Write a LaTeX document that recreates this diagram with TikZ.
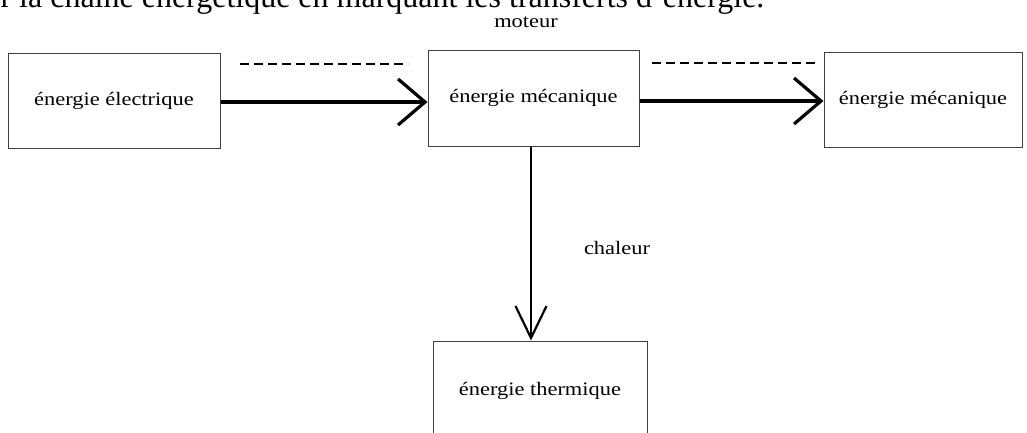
\documentclass[tikz,border=0pt]{standalone}
\usepackage{fontspec}
\setmainfont{Liberation Serif}
\newfontfamily\boxfont[FakeStretch=1.18]{Liberation Serif}
\usetikzlibrary{arrows.meta}

\begin{document}
\begin{tikzpicture}[x=1pt,y=-1pt,
        energie/.style={draw=black!75,line width=1pt,font=\boxfont\fontsize{19}{22}\selectfont,inner sep=0pt},
        transfert/.style={line width=3.2pt,-{Straight Barb[length=27pt,width=46pt]}},
        pertes/.style={line width=2.2pt,-{Straight Barb[length=32pt,width=31pt]}},
        blanc/.style={line width=2.5pt,dash pattern=on 9pt off 5pt},
        legende/.style={font=\boxfont\fontsize{19}{22}\selectfont}]
            \useasboundingbox (0,0) rectangle (1027,432);
            \clip (0,0) rectangle (1027,432);
            \node[anchor=base west,font=\fontsize{32}{36}\selectfont] (consigne) at (-3,7) {r la chaîne énergétique en marquant les transferts d'énergie.};
            \node[energie,minimum width=212pt,minimum height=95pt] (elec) at (114,100.5) {énergie électrique};
            \node[energie,minimum width=211pt,minimum height=96pt] (meca) at (533.5,98) {énergie mécanique};
            \node[energie,minimum width=198pt,minimum height=95pt] (meca2) at (923,99.5) {énergie mécanique};
            \node[energie,minimum width=214pt,minimum height=100pt] (therm) at (540,391) {énergie thermique};
            \node[legende] (moteur) at (526,22) {moteur};
            \node[legende] (chaleur) at (617,248) {chaleur};
            \draw[transfert] (elec.east) ++(0,1.5) coordinate (e1) -- (e1 -| meca.west);
            \draw[transfert] (meca.east) ++(0,3) coordinate (e2) -- (e2 -| meca2.west);
            \draw[pertes] (meca.south) ++(-2.5,0) coordinate (e3) -- (e3 |- therm.north);
            \draw[blanc] (240,64) -- (408,64);
            \draw[blanc] (652,63) -- (815,63);
        \end{tikzpicture}
\end{document}
